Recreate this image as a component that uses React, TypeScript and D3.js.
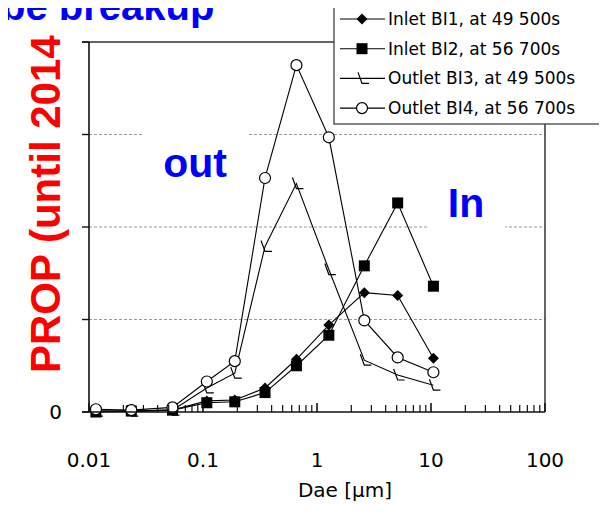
import React from "react";
import * as d3 from "d3";

const width = 607;
const height = 526;
const margin = { top: 42, right: 60, bottom: 114, left: 89 };

// particle sizes (Dae, µm) and series values
const sizes = [0.0115, 0.0235, 0.054, 0.108, 0.19, 0.35, 0.66, 1.27, 2.6, 5.1, 10.5];
const inletBI1 = [0.01, 0.01, 0.02, 0.12, 0.13, 0.26, 0.57, 0.94, 1.29, 1.26, 0.58];
const inletBI2 = [0.0, 0.01, 0.02, 0.1, 0.11, 0.21, 0.5, 0.83, 1.58, 2.26, 1.36];
const outletBI3 = [0.01, 0.01, 0.02, 0.26, 0.42, 1.79, 2.47, 1.54, 0.56, 0.4, 0.29];
const outletBI4 = [0.03, 0.02, 0.05, 0.33, 0.55, 2.53, 3.75, 2.97, 0.99, 0.59, 0.43];

const seriesNames = [
  "Inlet BI1, at 49 500s",
  "Inlet BI2, at 56 700s",
  "Outlet BI3, at 49 500s",
  "Outlet BI4, at 56 700s",
];
const markerKinds = ["diamond", "square", "zed", "circle"];

const xTicks = [0.01, 0.1, 1, 10, 100];
const xTickLabels = ["0.01", "0.1", "1", "10", "100"];
const yTicks = [0, 1, 2, 3, 4];
const yTickLabels = ["0"];

const comic = "'Comic Sans MS', 'DejaVu Sans', sans-serif";
const arial = "Arial, 'Liberation Sans', sans-serif";

function Marker({ kind, x, y }: { kind: string; x: number; y: number }) {
  if (kind === "diamond") {
    return <path d="M0,-5.5L5.5,0L0,5.5L-5.5,0Z" transform={`translate(${x},${y})`} fill="#000" />;
  }
  if (kind === "square") {
    return <rect x={x - 5.5} y={y - 5.5} width={11} height={11} fill="#000" />;
  }
  if (kind === "circle") {
    return <circle cx={x} cy={y} r={5.5} fill="#fff" stroke="#000" strokeWidth={1.2} />;
  }
  return (
    <path
      d="M-4,-6L0,5L7,5"
      transform={`translate(${x},${y})`}
      fill="none"
      stroke="#000"
      strokeWidth={1.2}
    />
  );
}

export default function App() {
  const x = d3
    .scaleLog()
    .domain([0.01, 100])
    .range([margin.left, width - margin.right - 2]);
  const y = d3
    .scaleLinear()
    .domain([0, 4])
    .range([height - margin.bottom, margin.top]);

  const allSeries = [inletBI1, inletBI2, outletBI3, outletBI4];
  const line = d3
    .line<number>()
    .x((_, i) => x(sizes[i]))
    .y((d) => y(d));

  const x0 = x(0.01);
  const x1 = x(100);
  const y0 = y(0);
  const y1 = y(4);

  // minor ticks 2..9 for each decade
  const minor: number[] = [];
  for (let e = -2; e < 2; e++) {
    for (let m = 2; m <= 9; m++) minor.push(m * Math.pow(10, e));
  }

  return (
    <svg width={width} height={height} style={{ display: "block", margin: -8 }}>
      <rect width={width} height={height} fill="#fff" />

      {/* grid */}
      {yTicks.slice(1, 4).map((t) => (
        <line
          key={t}
          x1={x0}
          x2={x1}
          y1={y(t)}
          y2={y(t)}
          stroke="#999"
          strokeDasharray="3,2"
          strokeWidth={1}
        />
      ))}

      {/* annotations */}
      <rect x={142} y={120} width={106} height={70} fill="#fff" />
      <text x={195} y={177} textAnchor="middle" fill="#0000ff" fontFamily={arial} fontWeight="bold" fontSize={41}>
        out
      </text>
      <rect x={427} y={175} width={78} height={62} fill="#fff" />
      <text x={466} y={217} textAnchor="middle" fill="#0000ff" fontFamily={arial} fontWeight="bold" fontSize={41}>
        In
      </text>

      {/* frame */}
      <line x1={x0 - 7} x2={x1} y1={y1} y2={y1} stroke="#333" strokeWidth={1.5} />
      <line x1={x1} x2={x1} y1={y1} y2={y0} stroke="#333" strokeWidth={1.5} />

      {/* data */}
      {allSeries.map((s, i) => (
        <path key={i} d={line(s) ?? ""} fill="none" stroke="#000" strokeWidth={1.1} />
      ))}
      {allSeries.map((s, i) =>
        s.map((v, j) => <Marker key={`${i}_${j}`} kind={markerKinds[i]} x={x(sizes[j])} y={y(v)} />)
      )}

      {/* axes */}
      <line x1={x0} x2={x0} y1={y1} y2={y0} stroke="#111" strokeWidth={1.6} />
      <line x1={x0 - 7} x2={x1} y1={y0} y2={y0} stroke="#111" strokeWidth={1.6} />
      {yTicks.map((t) => (
        <line key={t} x1={x0 - 7} x2={x0} y1={y(t)} y2={y(t)} stroke="#111" strokeWidth={1.4} />
      ))}
      {minor.map((t) => (
        <line key={t} x1={x(t)} x2={x(t)} y1={y0} y2={y0 - 7} stroke="#111" strokeWidth={1.2} />
      ))}
      {xTicks.map((t) => (
        <line key={t} x1={x(t)} x2={x(t)} y1={y0} y2={y0 - 9} stroke="#111" strokeWidth={1.6} />
      ))}
      {xTicks.map((t, i) => (
        <text key={t} x={x(t)} y={467} textAnchor="middle" fontFamily={comic} fontSize={20} fill="#000">
          {xTickLabels[i]}
        </text>
      ))}
      {yTickLabels.map((l, i) => (
        <text key={l} x={62} y={y(yTicks[i]) + 7} textAnchor="end" fontFamily={comic} fontSize={20} fill="#000">
          {l}
        </text>
      ))}
      <text x={345} y={497} textAnchor="middle" fontFamily={comic} fontSize={20} fill="#000">
        Dae [μm]
      </text>

      {/* titles (cropped at the top edge, as in the original slide) */}
      <text x={1} y={20} fill="#0000ff" fontFamily={arial} fontWeight="bold" fontSize={40}>
        be breakup
      </text>
      <text
        transform={`translate(60,373) rotate(-90)`}
        fill="#ff0000"
        fontFamily={arial}
        fontWeight="bold"
        fontSize={42}
      >
        PROP (until 2014
      </text>

      {/* legend */}
      <rect x={334} y={2} width={266} height={122} fill="#fff" stroke="#333" strokeWidth={1.2} />
      {seriesNames.map((name, i) => {
        const ly = 19 + i * 29.7;
        return (
          <g key={name}>
            <line x1={340} x2={385} y1={ly} y2={ly} stroke="#000" strokeWidth={1.1} />
            <Marker kind={markerKinds[i]} x={362} y={ly} />
            <text x={388} y={ly + 6} fontFamily={comic} fontSize={17} fill="#000">
              {name}
            </text>
          </g>
        );
      })}

      {/* bottom rule */}
      <line x1={0} x2={width} y1={523} y2={523} stroke="#333" strokeWidth={2} />
    </svg>
  );
}
